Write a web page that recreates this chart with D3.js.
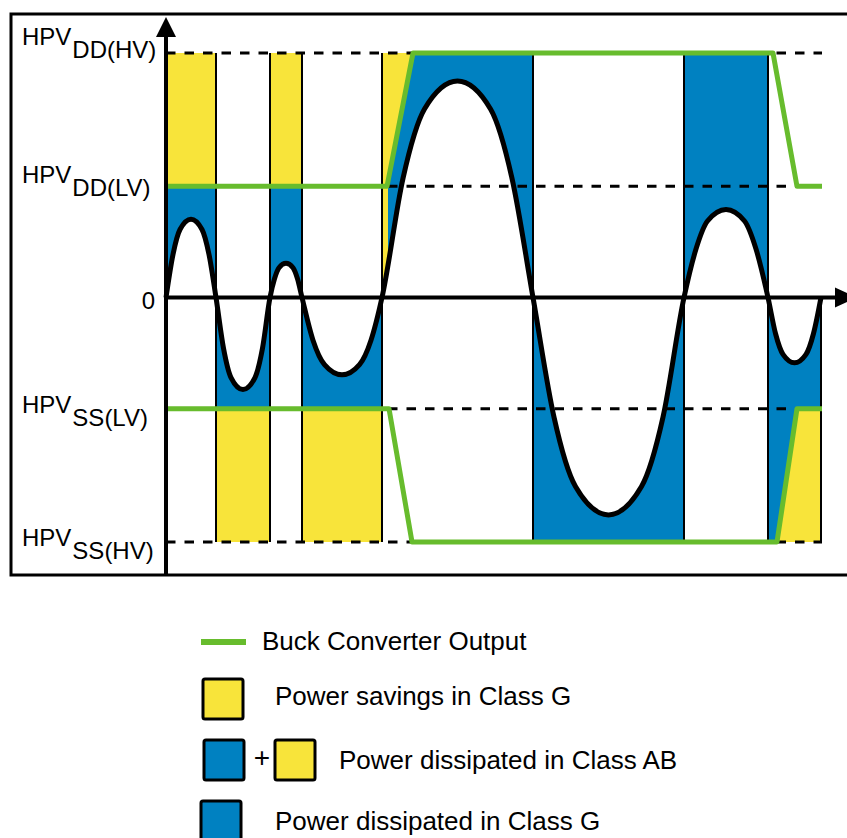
<!DOCTYPE html>
<html>
<head>
<meta charset="utf-8">
<script src="https://cdn.jsdelivr.net/npm/d3@7"></script>
<style>
body{margin:0;background:#fff;}
svg{font-family:"Liberation Sans",Arial,sans-serif;}
</style>
</head>
<body>
<svg id="chart"></svg>
<script>
// supply levels (V)
var railHV = 5.5, railLV = 2.5;
var levelValues = [5.5, 2.5, 0, -2.5, -5.5];
var levelMain = ["HPV", "HPV", "0", "HPV", "HPV"];
var levelSub = ["DD(HV)", "DD(LV)", "", "SS(LV)", "SS(HV)"];

// zero crossings of the output (time units)
var crossings = [0, 10, 20.8, 27.2, 43.2, 73.4, 103.6, 120.4, 131];

// amplifier output [t, V]
var signal = [
    [0,0],[1.4,0.97],[2.8,1.53],[5,1.76],[7.2,1.53],[8.6,0.97],
    [10,0],[11.5,-1.14],[13.0,-1.80],[15.4,-2.07],[17.8,-1.80],[19.3,-1.14],
    [20.8,0],[21.7,0.42],[22.6,0.67],[24.0,0.77],[25.4,0.67],[26.3,0.42],
    [27.2,0],[29.4,-0.96],[31.7,-1.51],[35.2,-1.74],[38.7,-1.51],[41.0,-0.96],
    [43.2,0],[47.4,2.68],[51.7,4.24],[58.3,4.87],[64.9,4.24],[69.2,2.68],
    [73.4,0],[77.6,-2.69],[81.9,-4.25],[88.5,-4.89],[95.1,-4.25],[99.4,-2.69],
    [103.6,0],[106.0,1.09],[108.3,1.72],[112.0,1.98],[115.7,1.72],[118.0,1.09],
    [120.4,0],[121.9,-0.81],[123.4,-1.28],[125.7,-1.47],[128.0,-1.28],[129.5,-0.81],[131,0]
];

// buck converter output (positive and negative rail)
var railTopT = [0, 44.2, 49.4, 121.4, 126.2, 131.2];
var railTopV = [2.5, 2.5, 5.5, 5.5, 2.5, 2.5];
var railBotT = [0, 44.6, 49.2, 122.2, 126.2, 131.2];
var railBotV = [-2.5, -2.5, -5.5, -5.5, -2.5, -2.5];

// small yellow strip before the rail ramps up
var sliver = [43.2, 44.4];

var legendNames = ["Buck Converter Output", "Power savings in Class G",
    "Power dissipated in Class AB", "Power dissipated in Class G"];

var yellow = '#f8e43a', blue = '#0081c1', green = '#67bc2d';

var draw = function(){
    var width = 847, height = 838;
    var svg = d3.select('#chart').attr('width', width).attr('height', height);

    var x = d3.scaleLinear().domain([0, 131]).range([166, 821]);
    var y = d3.scaleLinear().domain([-railHV, railHV]).range([542, 53]);
    var railTop = d3.scaleLinear().domain(railTopT).range(railTopV);
    var railBot = d3.scaleLinear().domain(railBotT).range(railBotV);

    // frame
    svg.append('rect')
    .attr('x', 11).attr('y', 14)
    .attr('width', 860).attr('height', 561)
    .attr('fill', 'none').attr('stroke', '#000').attr('stroke-width', 3);

    var plot = svg.append('g');

    var lobes = d3.pairs(crossings).map(function(p){
        var pts = signal.filter(function(d){ return d[0] >= p[0] && d[0] <= p[1]; });
        var s = d3.sum(pts, function(d){ return d[1]; }) > 0 ? 1 : -1;
        return {t0: p[0], t1: p[1], pts: pts, sign: s};
    });

    var sigArea = d3.area().curve(d3.curveMonotoneX)
    .x(function(d){ return x(d[0]); })
    .y1(function(d){ return y(d[1]); });

    // blue: between outer supply and signal
    lobes.forEach(function(l){
        plot.append('path').datum(l.pts)
        .attr('fill', blue)
        .attr('d', sigArea.y0(y(l.sign * railHV)));
    });

    // yellow strip
    svg.append('clipPath').attr('id', 'sliverClip')
    .append('rect')
    .attr('x', x(sliver[0])).attr('y', 0)
    .attr('width', x(sliver[1]) - x(sliver[0])).attr('height', height);
    var sl = lobes.find(function(l){ return l.t0 <= sliver[0] && l.t1 >= sliver[1]; });
    plot.append('path').datum(sl.pts)
    .attr('fill', yellow)
    .attr('clip-path', 'url(#sliverClip)')
    .attr('d', sigArea.y0(y(sl.sign * railHV)));

    // yellow: between outer supply and buck output
    lobes.forEach(function(l){
        var rail = l.sign > 0 ? railTop : railBot;
        var ts = [l.t0].concat(rail.domain().filter(function(t){ return t > l.t0 && t < l.t1; }), [l.t1]);
        plot.append('path').datum(ts)
        .attr('fill', yellow)
        .attr('d', d3.area()
            .x(function(t){ return x(t); })
            .y0(y(l.sign * railHV))
            .y1(function(t){ return y(rail(t)); }));
    });

    // dashed supply levels
    plot.selectAll('line.level')
    .data(levelValues.filter(function(v){ return v !== 0; }))
    .enter().append('line')
    .attr('class', 'level')
    .attr('x1', x(0)).attr('x2', x(131.2))
    .attr('y1', function(d){ return y(d); })
    .attr('y2', function(d){ return y(d); })
    .attr('stroke', '#000').attr('stroke-width', 3)
    .attr('stroke-dasharray', '9.5,9');

    // lobe boundaries
    var last = lobes[lobes.length - 1];
    crossings.slice(1).forEach(function(t, i){
        var isLast = i === crossings.length - 2;
        plot.append('line')
        .attr('x1', x(t)).attr('x2', x(t))
        .attr('y1', isLast ? y(0) : y(railHV))
        .attr('y2', y(isLast ? last.sign * railHV : -railHV))
        .attr('stroke', '#000').attr('stroke-width', 2);
    });

    // buck converter output
    var railLine = d3.line()
    .x(function(d){ return x(d[0]); })
    .y(function(d){ return y(d[1]); });
    [[railTopT, railTopV], [railBotT, railBotV]].forEach(function(r){
        plot.append('path')
        .datum(d3.zip(r[0], r[1]))
        .attr('fill', 'none').attr('stroke', green)
        .attr('stroke-width', 5).attr('stroke-linejoin', 'round')
        .attr('d', railLine);
    });

    // axes with arrows
    svg.append('line')
    .attr('x1', x(0)).attr('x2', x(0))
    .attr('y1', 575).attr('y2', 36)
    .attr('stroke', '#000').attr('stroke-width', 4);
    svg.append('path')
    .attr('d', 'M' + (x(0) - 10) + ',37L' + x(0) + ',17L' + (x(0) + 10) + ',37Z')
    .attr('fill', '#000');
    svg.append('line')
    .attr('x1', x(0)).attr('x2', 836)
    .attr('y1', y(0)).attr('y2', y(0))
    .attr('stroke', '#000').attr('stroke-width', 4);
    svg.append('path')
    .attr('d', 'M835,' + (y(0) - 10) + 'L857,' + y(0) + 'L835,' + (y(0) + 10) + 'Z')
    .attr('fill', '#000');

    // amplifier output
    plot.append('path')
    .datum(signal)
    .attr('fill', 'none').attr('stroke', '#000')
    .attr('stroke-width', 5)
    .attr('d', d3.line().curve(d3.curveMonotoneX)
        .x(function(d){ return x(d[0]); })
        .y(function(d){ return y(d[1]); }));

    // level labels
    var labelShift = [-8, -3, 11, 4, 4];
    levelValues.forEach(function(v, i){
        var t = svg.append('text')
        .attr('x', levelSub[i] ? 22 : 155)
        .attr('y', y(v) + labelShift[i])
        .attr('text-anchor', levelSub[i] ? 'start' : 'end')
        .style('font-size', '24px');
        t.append('tspan').text(levelMain[i]);
        if(levelSub[i]) t.append('tspan').attr('dy', 13).attr('dx', 1).text(levelSub[i]);
    });

    // legend
    var legend = svg.append('g').style('font-size', '26px');
    legend.append('line')
    .attr('x1', 201).attr('x2', 246).attr('y1', 642).attr('y2', 642)
    .attr('stroke', green).attr('stroke-width', 6);
    legend.append('text').attr('x', 262).attr('y', 650).text(legendNames[0]);

    function box(x0, y0, fill){
        legend.append('rect')
        .attr('x', x0).attr('y', y0).attr('width', 40).attr('height', 40)
        .attr('rx', 2)
        .attr('fill', fill).attr('stroke', '#000').attr('stroke-width', 3);
    }
    box(203, 679, yellow);
    legend.append('text').attr('x', 275).attr('y', 705).text(legendNames[1]);

    box(204, 740, blue);
    legend.append('text').attr('x', 262).attr('y', 767)
    .attr('text-anchor', 'middle').style('font-size', '28px').text('+');
    box(275, 740, yellow);
    legend.append('text').attr('x', 339).attr('y', 769).text(legendNames[2]);

    box(201, 801, blue);
    legend.append('text').attr('x', 275).attr('y', 830).text(legendNames[3]);
}

draw();
</script>
</body>
</html>
